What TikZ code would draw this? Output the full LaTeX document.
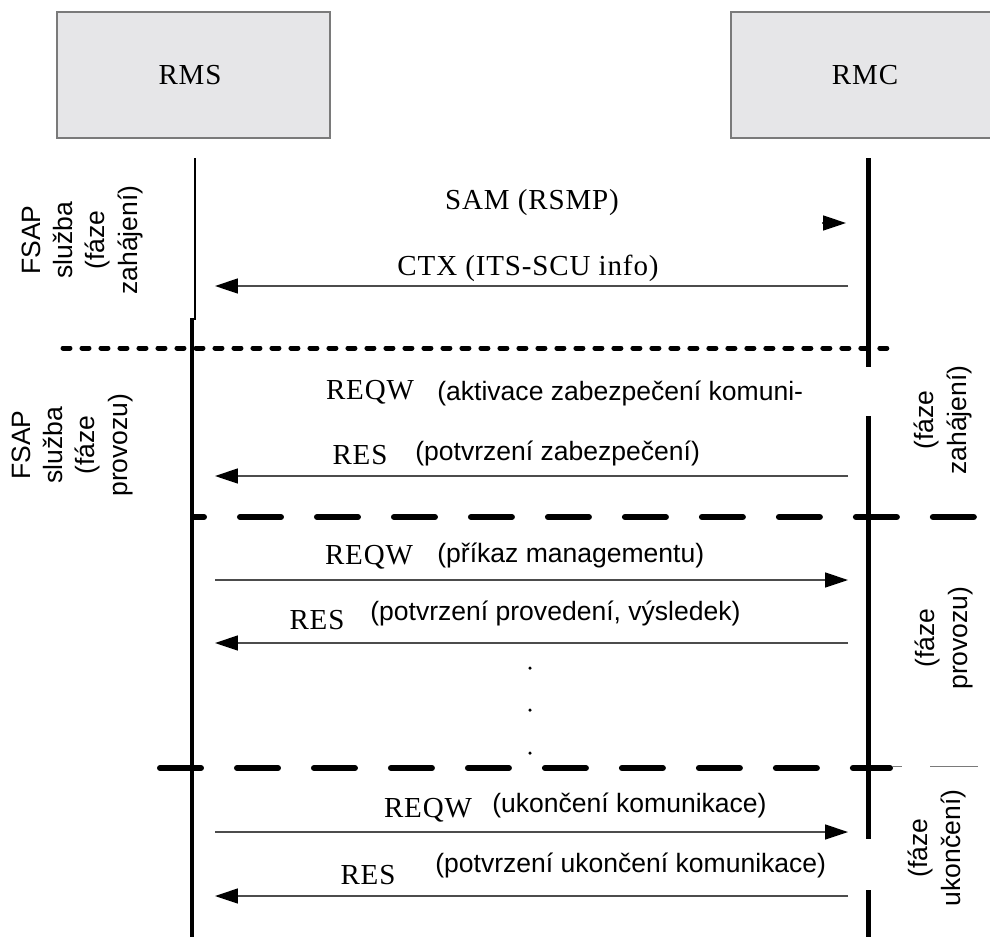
\documentclass[tikz,border=0pt]{standalone}
\usepackage{fontspec}
\setmainfont{Liberation Sans}
\newfontfamily\spacedserif[LetterSpace=3]{Liberation Serif}
\usetikzlibrary{arrows.meta}
\definecolor{boxgray}{HTML}{E6E6E8}
\definecolor{framegray}{HTML}{7A7A7A}

\begin{document}
\begin{tikzpicture}[x=0.02cm, y=-0.02cm,
    font=\fontsize{15.1}{18.4}\selectfont,
    box/.style={draw=framegray, line width=0.03cm, fill=boxgray, inner sep=0pt},
    tag/.style={font=\fontsize{16.5}{19.8}\selectfont\spacedserif, inner sep=0pt},
    note/.style={anchor=west, inner sep=0pt},
    phase/.style={rotate=90, align=center, inner sep=0pt},
    msg/.style={line width=0.03cm, draw=black!70,
      -{Triangle[length=0.46cm, width=0.3cm, fill=black, color=black]}},
    dotsep/.style={line width=0.1cm, line cap=round, dash pattern=on 0.14cm off 0.24cm},
    dashsep/.style={line width=0.12cm, line cap=round, dash pattern=on 0.82cm off 0.72cm}]
  \useasboundingbox (0,0) rectangle (990,937);

  % Entities
  \node[box, minimum width=5.46cm, minimum height=2.52cm] (rms) at (193.5,75) {};
  \node[tag] (rmslabel) at (190,75) {RMS};
  \node[box, minimum width=5.24cm, minimum height=2.52cm] (rmc) at (862,75) {};
  \node[tag] (rmclabel) at (865,75) {RMC};

  % Lifelines
  \draw[line width=0.04cm] (195,158) -- (195,320);
  \draw[line width=0.08cm] (192,318) -- (192,937);
  \draw[line width=0.1cm] (868,158) -- (868,367);
  \draw[line width=0.1cm] (868,416) -- (868,839);
  \draw[line width=0.1cm] (868,890) -- (868,937);

  % Phase separators
  \draw[dotsep] (63,348) -- (898,348);
  \draw[dashsep, dash phase=0.6cm] (193,517) -- (980,517);
  \draw[dashsep] (160,768) -- (890,768);
  \draw[line width=0.02cm, framegray] (892,766) -- (902,766);
  \draw[line width=0.02cm, framegray] (930,766) -- (978,766);

  % Message end points
  \coordinate (samA) at (822,223);  \coordinate (samB) at (846,223);
  \coordinate (ctxA) at (848,286);  \coordinate (ctxB) at (215,286);
  \coordinate (resA) at (848,476);  \coordinate (resB) at (215,476);
  \coordinate (reqB) at (215,580);  \coordinate (reqC) at (848,580);
  \coordinate (resC) at (848,643);  \coordinate (resD) at (215,643);
  \coordinate (reqD) at (215,832);  \coordinate (reqE) at (848,832);
  \coordinate (resE) at (848,896);  \coordinate (resF) at (215,896);

  % Zahajeni
  \node[tag] (sam) at (532,203) {SAM (RSMP)};
  \draw[msg] (samA) -- (samB);
  \node[tag] (ctx) at (528,268) {CTX (ITS-SCU info)};
  \draw[msg] (ctxA) -- (ctxB);

  % Aktivace zabezpeceni
  \node[tag] (req1) at (370,392) {REQW};
  \node[note] (req1note) at (437,393) {(aktivace zabezpečení komuni-};
  \node[tag] (res1) at (360,455) {RES};
  \node[note] (res1note) at (415,453) {(potvrzení zabezpečení)};
  \draw[msg] (resA) -- (resB);

  % Provoz
  \node[tag] (req2) at (369,557) {REQW};
  \node[note] (req2note) at (437,555) {(příkaz managementu)};
  \draw[msg] (reqB) -- (reqC);
  \node[tag] (res2) at (317,620) {RES};
  \node[note] (res2note) at (370,613) {(potvrzení provedení, výsledek)};
  \draw[msg] (resC) -- (resD);
  \foreach \y in {668,710,753}
    \fill (530,\y) circle (0.035cm);

  % Ukonceni
  \node[tag] (req3) at (428,810) {REQW};
  \node[note] (req3note) at (492,805) {(ukončení komunikace)};
  \draw[msg] (reqD) -- (reqE);
  \node[tag] (res3) at (368,875) {RES};
  \node[note] (res3note) at (435,865) {(potvrzení ukončení komunikace)};
  \draw[msg] (resE) -- (resF);

  % Phase labels
  \node[phase] (fsap1) at (82,240) {FSAP\\služba\\(fáze\\zahájení)};
  \node[phase] (fsap2) at (72,445) {FSAP\\služba\\(fáze\\provozu)};
  \node[phase] (ph1) at (943,420) {(fáze\\zahájení)};
  \node[phase] (ph2) at (944,638) {(fáze\\provozu)};
  \node[phase] (ph3) at (937,848) {(fáze\\ukončení)};
\end{tikzpicture}
\end{document}
